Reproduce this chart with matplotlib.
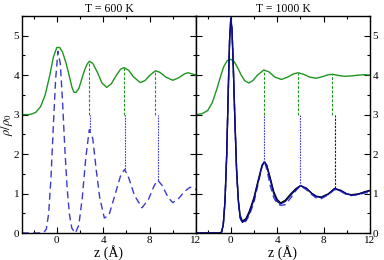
import matplotlib
matplotlib.use("Agg")
import matplotlib.pyplot as plt
from matplotlib.ticker import MultipleLocator

plt.rcParams['font.family'] = ['Liberation Serif', 'DejaVu Serif']
plt.rcParams['mathtext.fontset'] = 'stix'

# T = 600 K : g(z) shifted by +3 (green) and rho/rho0 (blue dashed)
z_600_g = [-3.0, -2.5, -2.2, -1.8, -1.4, -1.0, -0.6, -0.3, 0.0, 0.25, 0.5, 0.8, 1.1, 1.3, 1.47, 1.65, 1.9,
           2.1, 2.4, 2.6, 2.8, 3.1, 3.5, 3.9, 4.3, 4.7, 5.1, 5.5, 5.8, 6.2, 6.6, 7.2, 7.6, 8.0, 8.5,
           8.9, 9.4, 10.0, 10.5, 11.0, 11.3, 11.7, 12.0]
g_600 = [3.0, 3.0, 3.01, 3.06, 3.2, 3.5, 4.0, 4.45, 4.7, 4.7, 4.58, 4.3, 3.95, 3.7, 3.57, 3.56, 3.66,
         3.85, 4.13, 4.27, 4.35, 4.3, 4.07, 3.8, 3.69, 3.78, 3.98, 4.15, 4.19, 4.12, 3.96, 3.81, 3.86, 3.99, 4.11,
         4.07, 3.95, 3.87, 3.93, 4.03, 4.06, 4.03, 4.0]
z_600_r = [-3.0, -1.5, -1.1, -0.9, -0.7, -0.5, -0.3, -0.1, 0.1, 0.3, 0.5, 0.7, 0.9, 1.1, 1.3, 1.6,
           1.9, 2.2, 2.5, 2.8, 3.1, 3.4, 3.7, 4.1, 4.5, 5.0, 5.5, 5.85, 6.2, 6.7, 7.35, 7.9, 8.4, 8.7,
           9.1, 9.6, 10.0, 10.5, 11.0, 11.5, 12.0]
rho_600 = [0.0, 0.0, 0.02, 0.1, 0.5, 1.4, 2.7, 3.9, 4.6, 4.3, 3.3, 2.1, 1.1, 0.45, 0.12, 0.0,
           0.2, 0.9, 1.9, 2.62, 2.4, 1.6, 0.9, 0.38, 0.45, 0.95, 1.45, 1.61, 1.4, 0.95, 0.64, 0.85, 1.2, 1.34,
           1.2, 0.9, 0.77, 0.87, 1.05, 1.16, 1.1]
peaks_600_g = [2.8, 5.8, 8.5]
tops_600_g = [4.35, 4.19, 4.11]
peaks_600_r = [2.85, 5.85, 8.75]
tops_600_r = [2.62, 1.61, 1.34]

# T = 1000 K
z_1000_g = [-3.0, -2.5, -2.0, -1.6, -1.2, -0.9, -0.6, -0.3, 0.0, 0.3, 0.6, 0.9, 1.2, 1.55, 1.9,
            2.3, 2.85, 3.3, 3.8, 4.36, 4.9, 5.4, 5.8, 6.3, 6.8, 7.35, 7.9, 8.4, 8.8, 9.3, 9.8,
            10.4, 11.0, 11.5, 12.0]
g_1000 = [3.0, 3.02, 3.1, 3.3, 3.65, 3.95, 4.22, 4.37, 4.4, 4.34, 4.18, 4.0, 3.86, 3.8, 3.86,
          4.0, 4.13, 4.08, 3.95, 3.89, 3.95, 4.03, 4.06, 4.02, 3.95, 3.92, 3.96, 4.01, 4.02, 3.99, 3.97,
          3.98, 4.0, 4.01, 4.0]
z_1000 = [-3.0, -1.0, -0.8, -0.65, -0.5, -0.35, -0.2, -0.1, 0.0, 0.1, 0.2, 0.35, 0.5, 0.65, 0.8,
          1.0, 1.3, 1.6, 2.0, 2.4, 2.7, 2.9, 3.1, 3.4, 3.7, 4.0, 4.3, 4.7, 5.2, 5.6, 6.0, 6.5,
          7.0, 7.4, 7.8, 8.4, 8.95, 9.5, 10.0, 10.4, 11.0, 11.6, 12.0]
rho_1000_a = [0.0, 0.0, 0.02, 0.2, 0.8, 2.0, 3.8, 4.9, 5.45, 5.2, 4.4, 2.9, 1.6, 0.8, 0.4,
              0.27, 0.33, 0.5, 0.85, 1.35, 1.7, 1.81, 1.7, 1.35, 1.0, 0.8, 0.74, 0.8, 0.97, 1.1, 1.2, 1.14,
              1.0, 0.92, 0.9, 0.98, 1.13, 1.08, 0.99, 0.96, 0.98, 1.04, 1.07]
rho_1000_b = [0.0, 0.0, 0.02, 0.2, 0.8, 2.0, 3.8, 4.9, 5.4, 5.15, 4.35, 2.9, 1.6, 0.85, 0.45,
              0.3, 0.36, 0.55, 0.9, 1.38, 1.72, 1.8, 1.72, 1.4, 1.05, 0.85, 0.76, 0.83, 1.0, 1.12, 1.2, 1.13,
              1.0, 0.93, 0.91, 0.99, 1.12, 1.07, 0.99, 0.97, 0.99, 1.05, 1.08]
rho_1000_c = [0.0, 0.0, 0.02, 0.2, 0.8, 2.0, 3.8, 4.9, 5.4, 5.15, 4.35, 2.9, 1.6, 0.8, 0.38,
              0.26, 0.3, 0.45, 0.78, 1.3, 1.7, 1.82, 1.62, 1.2, 0.9, 0.75, 0.7, 0.72, 0.9, 1.07, 1.2, 1.1,
              0.97, 0.88, 0.87, 0.97, 1.1, 1.05, 0.97, 0.95, 0.97, 1.02, 1.02]
peaks_1000_g = [2.85, 5.8, 8.75]
tops_1000_g = [4.13, 4.06, 4.02]
peaks_1000_r = [2.9, 6.0, 8.95]
tops_1000_r = [1.81, 1.2, 1.13]

green = '#1e961e'
blue = '#3a3ad0'
navy = '#0a0a8c'

fig = plt.figure(figsize=(3.84, 2.6), dpi=100)
ax1 = fig.add_axes([0.0573, 0.1038, 0.453, 0.835])
ax2 = fig.add_axes([0.5104, 0.1038, 0.453, 0.835])

# left panel
ax1.plot(z_600_g, g_600, color=green, lw=1.0)
ax1.plot(z_600_r, rho_600, color=blue, lw=1.0, ls=(0, (5, 3)))
ax1.vlines(peaks_600_g, 3.0, tops_600_g, color=green, lw=0.8, ls=(0, (2.5, 1.5)))
ax1.vlines(peaks_600_r, tops_600_r, 3.0, color=blue, lw=0.8, ls=(0, (1.5, 1)))
ax1.set_title('T = 600 K', fontsize=8.5, pad=3)
ax1.set_ylabel(r'$\rho/\rho_0$', fontsize=9, va='center')
ax1.yaxis.set_label_coords(-0.088, 0.5)

# right panel
ax2.plot(z_1000_g, g_1000, color=green, lw=1.0)
ax2.plot(z_1000, rho_1000_b, color='black', lw=1.0)
ax2.plot(z_1000, rho_1000_c, color=blue, lw=1.0, ls=(0, (5, 3)))
ax2.plot(z_1000, rho_1000_a, color=navy, lw=1.0)
ax2.vlines(peaks_1000_g, 3.0, tops_1000_g, color=green, lw=0.8, ls=(0, (2.5, 1.5)))
ax2.vlines(peaks_1000_r[:2], tops_1000_r[:2], 3.0, color=blue, lw=0.8, ls=(0, (1.5, 1)))
ax2.vlines(peaks_1000_r[2:], tops_1000_r[2:], 3.0, color=navy, lw=0.8, ls=(0, (2, 1.2)))
ax2.set_title('T = 1000 K', fontsize=8.5, pad=3)
ax2.yaxis.tick_right()

for ax in (ax1, ax2):
    ax.set_xlim(-3, 12)
    ax.set_ylim(0, 5.5)
    ax.xaxis.set_major_locator(MultipleLocator(4))
    ax.xaxis.set_minor_locator(MultipleLocator(2))
    ax.yaxis.set_major_locator(MultipleLocator(1))
    ax.yaxis.set_minor_locator(MultipleLocator(0.5))
    ax.tick_params(which='both', direction='in', top=True, bottom=True, left=True, right=True,
                   labelsize=8, pad=2)
    ax.tick_params(which='major', length=4, width=0.8)
    ax.tick_params(which='minor', length=2.5, width=0.8)
    ax.set_xlabel('z (Å)', fontsize=10, labelpad=0)
    for s in ax.spines.values():
        s.set_linewidth(1.0)

ax2.tick_params(labelleft=False, labelright=True)

fig.savefig('out.png', dpi=100)
